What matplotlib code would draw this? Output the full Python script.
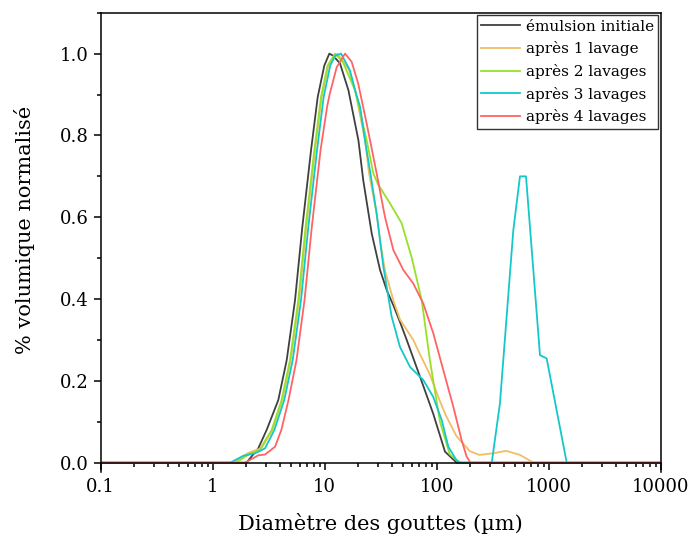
import matplotlib
matplotlib.use('Agg')
import matplotlib.pyplot as plt
import matplotlib.ticker as mtick
import numpy as np

# donnees (diametre en um, volume normalise)
d_init = [0.1, 2.0, 2.55, 3.03, 3.85, 4.58, 5.43, 6.31, 7.55, 8.66, 9.92, 11.0, 11.9, 13.7, 16.3, 20.0, 22.1,
          26.3, 31.2, 36.0, 41.0, 47.0, 54.0, 71.0, 93.0, 118.6, 151.0, 10000]
v_init = [0, 0, 0.035, 0.080, 0.153, 0.251, 0.397, 0.576, 0.764, 0.894, 0.971, 1.0, 0.995, 0.976, 0.91, 0.788, 0.69,
          0.56, 0.471, 0.42, 0.385, 0.344, 0.30, 0.21, 0.12, 0.027, 0, 0]

d_lav1 = [0.1, 1.53, 2.08, 2.74, 3.41, 4.18, 4.97, 5.90, 6.85, 8.2, 9.4, 10.77, 13.0, 16.5, 18.7, 22.9, 24.9,
          29.0, 31.2, 34.5, 41.0, 47.0, 61.8, 71.0, 87.0, 107.0, 121.0, 150.0, 198.0, 240.0, 320.0, 418.0, 555.0,
          730.0, 10000]
v_lav1 = [0, 0, 0.024, 0.036, 0.080, 0.153, 0.251, 0.397, 0.576, 0.764, 0.894, 0.971, 1.0, 0.96, 0.91, 0.788, 0.707,
          0.61, 0.544, 0.47, 0.397, 0.35, 0.30, 0.265, 0.215, 0.15, 0.115, 0.065, 0.028, 0.019, 0.023, 0.029, 0.019,
          0, 0]

d_lav2 = [0.1, 1.61, 2.15, 2.6, 3.36, 4.12, 4.90, 5.81, 6.75, 8.08, 9.27, 10.6, 12.4, 14.5, 18.7, 23.7, 27.2,
          30.0, 38.3, 48.7, 60.0, 73.5, 87.0, 107.0, 131.0, 161.0, 10000]
v_lav2 = [0, 0, 0.022, 0.03, 0.080, 0.153, 0.251, 0.397, 0.576, 0.764, 0.894, 0.971, 1.0, 0.98, 0.91, 0.788, 0.707,
          0.68, 0.634, 0.585, 0.50, 0.397, 0.25, 0.10, 0.02, 0, 0]

d_lav3 = [0.1, 1.43, 1.88, 2.39, 2.93, 3.55, 4.35, 5.18, 6.14, 7.14, 8.54, 9.79, 11.2, 12.4, 14.0, 16.8, 18.7,
          20.7, 22.9, 25.6, 29.1, 33.4, 39.6, 47.0, 57.8, 76.0, 93.0, 111.0, 127.0, 151.0, 165.0, 310.0, 367.0,
          483.0, 554.0, 627.0, 836.0, 959.0, 1449.0, 10000]
v_lav3 = [0, 0, 0.017, 0.023, 0.035, 0.080, 0.153, 0.251, 0.397, 0.576, 0.764, 0.894, 0.971, 0.995, 1.0, 0.959, 0.91,
          0.87, 0.788, 0.707, 0.609, 0.479, 0.357, 0.283, 0.234, 0.202, 0.161, 0.104, 0.039, 0.005, 0, 0, 0.145,
          0.568, 0.70, 0.70, 0.263, 0.255, 0, 0]

d_lav4 = [0.1, 1.94, 2.55, 2.93, 3.6, 4.1, 4.75, 5.6, 6.6, 7.67, 9.18, 10.5, 11.1, 12.8, 15.2, 17.4, 19.9, 23.7,
          25.4, 29.1, 34.5, 41.0, 50.4, 61.8, 75.9, 93.3, 114.6, 140.7, 167.0, 185.0, 200.0, 10000]
v_lav4 = [0, 0, 0.018, 0.02, 0.039, 0.08, 0.153, 0.251, 0.397, 0.576, 0.764, 0.87, 0.902, 0.967, 1.0, 0.98, 0.927,
          0.829, 0.788, 0.707, 0.601, 0.52, 0.471, 0.438, 0.389, 0.316, 0.226, 0.137, 0.055, 0.015, 0, 0]

labels = ['émulsion initiale', 'après 1 lavage', 'après 2 lavages', 'après 3 lavages', 'après 4 lavages']
couleurs = ['#404040', '#F0BE64', '#96E128', '#14C8C8', '#FF6464']
xticks = [0.1, 1, 10, 100, 1000, 10000]
yticks = [0.0, 0.2, 0.4, 0.6, 0.8, 1.0]

plt.rcParams['font.family'] = 'DejaVu Serif'

fig = plt.figure(figsize=(6.88, 5.37), dpi=100)
ax = fig.add_axes([0.1464, 0.1216, 0.8139, 0.8547])

series = [(d_init, v_init), (d_lav1, v_lav1), (d_lav2, v_lav2), (d_lav3, v_lav3), (d_lav4, v_lav4)]
for (d, v), lab, c in zip(series, labels, couleurs):
    ax.plot(d, v, color=c, linewidth=1.3, label=lab)

ax.set_xscale('log')
ax.set_xlim(0.1, 10000)
ax.set_ylim(-0.022, 1.1)
ax.spines['bottom'].set_position(('data', 0))
for sp in ax.spines.values():
    sp.set_linewidth(1.1)

ax.set_xticks(xticks)
ax.xaxis.set_major_formatter(mtick.FuncFormatter(lambda x, p: '%g' % x))
ax.xaxis.set_minor_locator(mtick.LogLocator(base=10, subs=np.arange(2, 10)))
ax.xaxis.set_minor_formatter(mtick.NullFormatter())
ax.set_yticks(yticks)
ax.yaxis.set_major_formatter(mtick.FormatStrFormatter('%.1f'))
ax.yaxis.set_minor_locator(mtick.MultipleLocator(0.1))
ax.tick_params(which='major', direction='out', length=5, width=1.1, labelsize=13)
ax.tick_params(axis='x', which='major', pad=6)
ax.tick_params(which='minor', direction='out', length=3, width=1.1)
ax.tick_params(top=False, right=False, which='both')

ax.set_xlabel('Diamètre des gouttes (µm)', fontsize=15, labelpad=12)
ax.set_ylabel('% volumique normalisé', fontsize=15)
ax.yaxis.set_label_coords(-0.118, 0.527)

leg = ax.legend(loc='upper right', fontsize=11, frameon=True, fancybox=False, borderaxespad=0.15,
                handlelength=2.5, handletextpad=0.4, labelspacing=0.5, borderpad=0.3)
leg.get_frame().set_edgecolor('black')
leg.get_frame().set_linewidth(1.0)

plt.savefig('out.png', dpi=100)
